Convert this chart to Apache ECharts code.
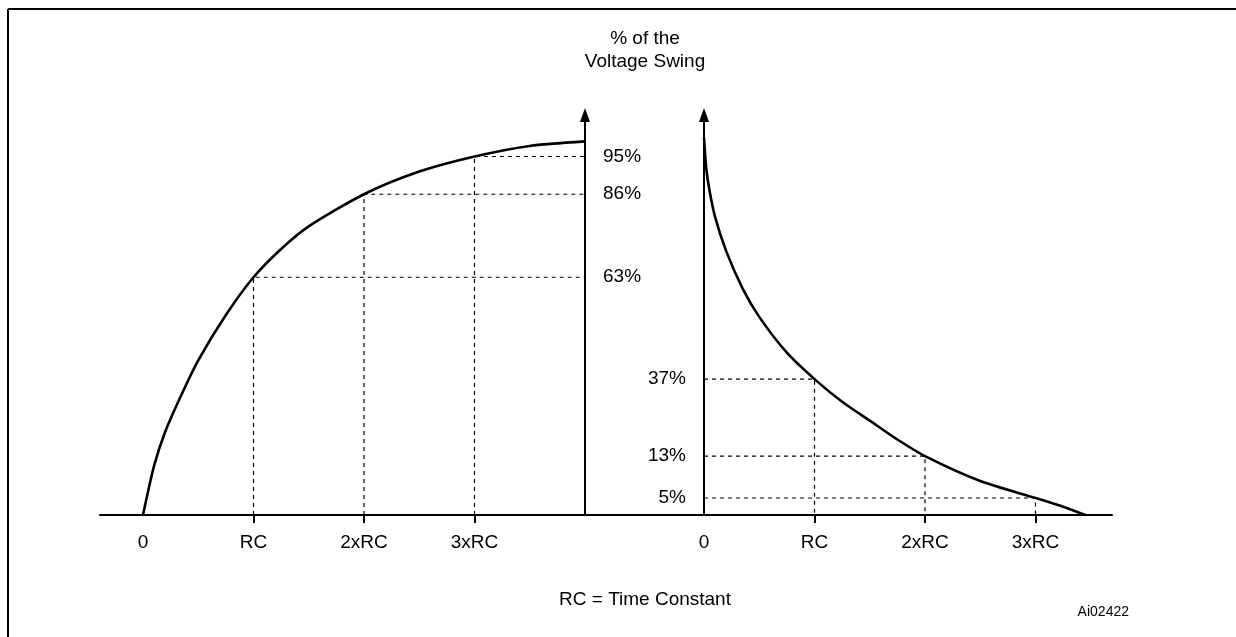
<!DOCTYPE html>
<html>
<head>
<meta charset="utf-8">
<script src="https://cdn.jsdelivr.net/npm/echarts@6/dist/echarts.min.js"></script>
<style>
html,body{margin:0;padding:0;background:#fff;}
#c{width:1236px;height:637px;}
</style>
</head>
<body>
<div id="c"></div>
<script>
// Charging curve (time in RC units, % of voltage swing)
const chargeT = [0, 0.1, 0.2, 0.35, 0.5, 0.75, 1, 1.25, 1.5, 2, 2.5, 3, 3.5, 4];
const chargeV = [0, 13, 22, 32, 41, 53, 63, 70.5, 76.5, 85, 91, 95, 97.8, 99];
// Discharging curve
const dischargeT = [0, 0.02, 0.05, 0.1, 0.2, 0.35, 0.5, 0.75, 1, 1.25, 1.5, 1.75, 2, 2.5, 3, 3.25, 3.45];
const dischargeV = [100, 92, 86, 79, 70, 60, 52.5, 43, 36, 30, 25, 20, 15.6, 9, 4.5, 2.2, 0];
// Reference marks
const chargeMarkT = [1, 2, 3];
const chargeMarkV = [63, 85, 95];
const chargeMarkLabels = ['63%', '86%', '95%'];
const dischargeMarkT = [1, 2, 3];
const dischargeMarkV = [36, 15.6, 4.5];
const dischargeMarkLabels = ['37%', '13%', '5%'];
// X tick labels
const xTickValues = [0, 1, 2, 3];
const xTickLabels = ['0', 'RC', '2xRC', '3xRC'];

const FONT = '"Liberation Sans", Arial, sans-serif';
const chart = echarts.init(document.getElementById('c'), null, {renderer: 'canvas'});

const zip = (a, b) => a.map((v, i) => [v, b[i]]);
const series = [];
series.push({
  type: 'line', xAxisIndex: 0, yAxisIndex: 0, data: zip(chargeT, chargeV),
  smooth: 0.25, symbol: 'none', silent: true, z: 5,
  lineStyle: {color: '#000', width: 2.6}
});
series.push({
  type: 'line', xAxisIndex: 1, yAxisIndex: 1, data: zip(dischargeT, dischargeV),
  smooth: 0.25, symbol: 'none', silent: true, z: 5,
  lineStyle: {color: '#000', width: 2.6}
});
chargeMarkT.forEach((t, i) => {
  series.push({
    type: 'line', xAxisIndex: 0, yAxisIndex: 0,
    data: [[t, 0], [t, chargeMarkV[i]], [4, chargeMarkV[i]]],
    symbol: 'none', silent: true, z: 3,
    lineStyle: {color: '#000', width: 1.2, type: [4, 4]}
  });
});
dischargeMarkT.forEach((t, i) => {
  series.push({
    type: 'line', xAxisIndex: 1, yAxisIndex: 1,
    data: [[0, dischargeMarkV[i]], [t, dischargeMarkV[i]], [t, 0]],
    symbol: 'none', silent: true, z: 3,
    lineStyle: {color: '#000', width: 1.2, type: [4, 4]}
  });
});

const PX = 110.5;
const xAxisBase = {
  type: 'value',
  splitLine: {show: false},
  axisLine: {show: true, onZero: true, lineStyle: {color: '#000', width: 2}},
  axisTick: {show: true, customValues: [1, 2, 3], length: 8, lineStyle: {color: '#000', width: 2}},
  axisLabel: {
    show: true, customValues: xTickValues, margin: 18,
    color: '#000', fontSize: 19, fontFamily: FONT,
    formatter: v => xTickLabels[Math.round(v)]
  }
};
const yAxisBase = {
  type: 'value', min: 0, max: 106,
  splitLine: {show: false},
  axisTick: {show: false}
};

chart.setOption({
  animation: false,
  backgroundColor: '#fff',
  grid: [
    {left: 100, width: 604, top: 115, bottom: 122},
    {left: 704, right: 124, top: 115, bottom: 122}
  ],
  xAxis: [
    Object.assign({}, xAxisBase, {gridIndex: 0, min: -43 / PX, max: (704 - 143) / PX}),
    Object.assign({}, xAxisBase, {gridIndex: 1, min: 0, max: (1112 - 704) / PX})
  ],
  yAxis: [
    Object.assign({}, yAxisBase, {
      gridIndex: 0, position: 'right', offset: -119,
      axisLine: {show: true, onZero: false, symbol: ['none', 'triangle'], symbolSize: [10, 14],
        lineStyle: {color: '#000', width: 2}},
      axisLabel: {show: true, customValues: chargeMarkV, margin: 18, color: '#000', fontSize: 19,
        fontFamily: FONT, formatter: v => chargeMarkLabels[chargeMarkV.indexOf(v)]}
    }),
    Object.assign({}, yAxisBase, {
      gridIndex: 1, position: 'left',
      axisLine: {show: true, onZero: false, symbol: ['none', 'triangle'], symbolSize: [10, 14],
        lineStyle: {color: '#000', width: 2}},
      axisLabel: {show: true, customValues: dischargeMarkV, margin: 18, color: '#000', fontSize: 19,
        fontFamily: FONT, formatter: v => dischargeMarkLabels[dischargeMarkV.indexOf(v)]}
    })
  ],
  graphic: [
    {type: 'line', shape: {x1: 8, y1: 9, x2: 1236, y2: 9}, style: {stroke: '#000', lineWidth: 2}, silent: true},
    {type: 'line', shape: {x1: 8, y1: 9, x2: 8, y2: 637}, style: {stroke: '#000', lineWidth: 2}, silent: true},
    {type: 'text', x: 645, y: 39, style: {text: '% of the', font: '19px ' + FONT, fill: '#000', align: 'center', verticalAlign: 'middle'}},
    {type: 'text', x: 645, y: 62, style: {text: 'Voltage Swing', font: '19px ' + FONT, fill: '#000', align: 'center', verticalAlign: 'middle'}},
    {type: 'text', x: 645, y: 600, style: {text: 'RC = Time Constant', font: '19px ' + FONT, fill: '#000', align: 'center', verticalAlign: 'middle'}},
    {type: 'text', x: 1129, y: 612, style: {text: 'Ai02422', font: '14px ' + FONT, fill: '#000', align: 'right', verticalAlign: 'middle'}}
  ],
  series: series
});
</script>
</body>
</html>
